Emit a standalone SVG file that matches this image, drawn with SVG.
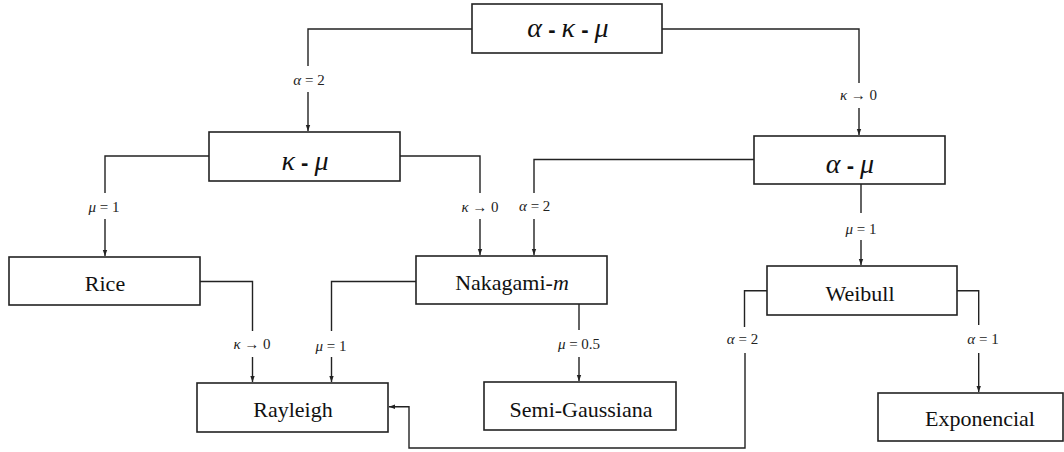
<svg xmlns="http://www.w3.org/2000/svg" width="1064" height="452" viewBox="0 0 1064 452">
<style>
.box{fill:#fff;stroke:#222;stroke-width:1.6}
.c{fill:none;stroke:#222;stroke-width:1.4}
.nt{font-family:"Liberation Serif","DejaVu Serif","Times New Roman",serif;font-size:22px;fill:#111;text-anchor:middle}
.gt{font-family:"Liberation Serif","DejaVu Serif","Times New Roman",serif;font-size:28px;fill:#111;text-anchor:middle}
.gt .g{font-style:italic}
.gt .d{font-family:"Liberation Sans","DejaVu Sans",sans-serif;font-weight:bold;font-size:22px}
.lb{font-family:"Liberation Serif","DejaVu Serif","Times New Roman",serif;font-size:15px;fill:#222;text-anchor:middle}
.i{font-style:italic}
</style>
<defs>
<marker id="ah" markerUnits="userSpaceOnUse" markerWidth="6" markerHeight="6" viewBox="0 0 6 6" refX="6" refY="3" orient="auto">
<path d="M0,0.8 L6,3 L0,5.2 Z" fill="#222"/>
</marker>
</defs>
<g id="connectors">
<path class="c" d="M472,29 H308 V66"/><path class="c" d="M308,92 V131" marker-end="url(#ah)"/>
<path class="c" d="M662,29 H859 V83"/><path class="c" d="M859,108 V135" marker-end="url(#ah)"/>
<path class="c" d="M209,156 H105 V193"/><path class="c" d="M105,219 V256" marker-end="url(#ah)"/>
<path class="c" d="M400,156 H480 V193"/><path class="c" d="M480,219 V255" marker-end="url(#ah)"/>
<path class="c" d="M754,159.5 H534 V193"/><path class="c" d="M534,219 V255" marker-end="url(#ah)"/>
<path class="c" d="M861,184 V213"/><path class="c" d="M861,240 V265" marker-end="url(#ah)"/>
<path class="c" d="M200,281.5 H252.5 V331"/><path class="c" d="M252.5,357 V382" marker-end="url(#ah)"/>
<path class="c" d="M416,281.5 H331.5 V331"/><path class="c" d="M331.5,357 V382" marker-end="url(#ah)"/>
<path class="c" d="M579,304 V330"/><path class="c" d="M579,357 V381" marker-end="url(#ah)"/>
<path class="c" d="M957,290.7 H978.7 V325"/><path class="c" d="M978.7,353 V392" marker-end="url(#ah)"/>
<path class="c" d="M767,290.7 H744.5 V327"/><path class="c" d="M745,353 V448 H409 V406.7 H389" marker-end="url(#ah)"/>
<text class="lb" x="309" y="85"><tspan class="i">α</tspan> = 2</text>
<text class="lb" x="858.5" y="100"><tspan class="i">κ</tspan> → 0</text>
<text class="lb" x="104" y="211.7"><tspan class="i">μ</tspan> = 1</text>
<text class="lb" x="480" y="211.7"><tspan class="i">κ</tspan> → 0</text>
<text class="lb" x="534.7" y="210.7"><tspan class="i">α</tspan> = 2</text>
<text class="lb" x="861" y="233.5"><tspan class="i">μ</tspan> = 1</text>
<text class="lb" x="252" y="349.3"><tspan class="i">κ</tspan> → 0</text>
<text class="lb" x="331" y="350.5"><tspan class="i">μ</tspan> = 1</text>
<text class="lb" x="579" y="349"><tspan class="i">μ</tspan> = 0.5</text>
<text class="lb" x="742.5" y="344.3"><tspan class="i">α</tspan> = 2</text>
<text class="lb" x="983" y="344.3"><tspan class="i">α</tspan> = 1</text>
</g>
<g id="n_akm"><rect class="box" x="472" y="4" width="190" height="49"/><text class="gt" x="568" y="37"><tspan class="g">α</tspan><tspan class="d"> - </tspan><tspan class="g">κ</tspan><tspan class="d"> - </tspan><tspan class="g">μ</tspan></text></g>
<g id="n_km"><rect class="box" x="209" y="132" width="191" height="49"/><text class="gt" x="305" y="170"><tspan class="g">κ</tspan><tspan class="d"> - </tspan><tspan class="g">μ</tspan></text></g>
<g id="n_am"><rect class="box" x="754" y="136" width="191" height="48"/><text class="gt" x="850" y="173"><tspan class="g">α</tspan><tspan class="d"> - </tspan><tspan class="g">μ</tspan></text></g>
<g id="n_rice"><rect class="box" x="9" y="257" width="191" height="48"/><text class="nt" x="105" y="290.5">Rice</text></g>
<g id="n_naka"><rect class="box" x="416" y="256" width="191" height="48"/><text class="nt" x="512" y="290">Nakagami-<tspan class="i">m</tspan></text></g>
<g id="n_weibull"><rect class="box" x="767" y="266" width="190" height="49"/><text class="nt" x="860" y="300.5">Weibull</text></g>
<g id="n_rayleigh"><rect class="box" x="197" y="383" width="191" height="49"/><text class="nt" x="293" y="417">Rayleigh</text></g>
<g id="n_semi"><rect class="box" x="484" y="382" width="192" height="48"/><text class="nt" x="581" y="416.5">Semi-Gaussiana</text></g>
<g id="n_expo"><rect class="box" x="878" y="393" width="185" height="48"/><text class="nt" x="980" y="426">Exponencial</text></g>
</svg>
